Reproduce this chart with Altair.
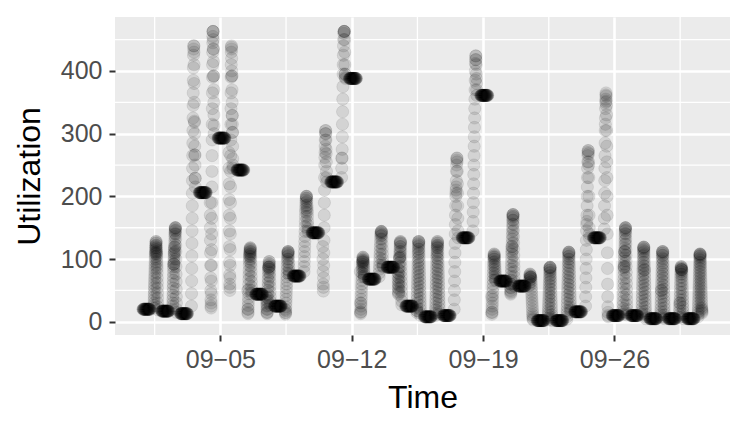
import altair as alt
import numpy as np
import pandas as pd

# ---- data -----------------------------------------------------------------
# constant overnight level for each day (dark blobs)
night_values = [20, 17, 13, 206, 293, 242, 44, 25, 73, 142,
                223, 388, 68, 87, 25, 8, 10, 134, 361, 65,
                57, 2, 2, 16, 134, 10, 10, 5, 5, 5]

# daytime readings for each day (columns)
day01 = [22, 26, 30, 35, 40, 45, 50, 55, 60, 65, 70, 75, 80, 85, 90, 95, 100, 104, 108, 110, 112, 115, 118, 120,
         122, 125, 128, 128, 126, 122, 118, 115, 112, 110, 108, 105, 100, 95, 90, 85, 78, 70, 62, 54, 46, 38, 30, 24, 19]
day02 = [20, 25, 30, 36, 42, 48, 54, 60, 66, 72, 78, 84, 88, 92, 92, 92, 96, 100, 104, 108, 110, 112, 115, 119, 119,
         124, 130, 136, 140, 142, 145, 148, 150, 150, 150, 146, 140, 132, 122, 112, 100, 88, 76, 64, 52, 40, 30, 20, 15]
day03 = [25, 45, 65, 85, 105, 125, 145, 165, 185, 205, 225, 245, 265, 285, 305, 325, 345, 365, 385, 405, 425, 435,
         440, 440, 430, 410, 380, 350, 320, 318, 300, 280, 266, 266, 250, 229, 229, 215]
day04 = [190, 170, 150, 130, 110, 90, 70, 50, 35, 25, 22, 30, 45, 65, 90, 115, 140, 165, 190, 215, 240, 265, 290,
         315, 340, 365, 390, 410, 430, 445, 455, 463, 463, 463, 450, 435, 435, 415, 392, 392, 370, 350, 330, 313, 300]
day05 = [270, 245, 220, 195, 170, 145, 120, 95, 75, 60, 50, 55, 70, 90, 115, 140, 165, 190, 215, 240, 265, 290, 315,
         340, 365, 390, 410, 430, 438, 440, 435, 420, 400, 392, 392, 370, 350, 329, 329, 315, 302, 302, 280, 260, 250, 245]
day06 = [50, 20, 13, 15, 20, 26, 32, 38, 45, 52, 60, 68, 75, 82, 90, 96, 100, 104, 106, 108, 110, 112, 114,
         116, 118, 118, 116, 112, 108, 104, 100, 94, 88, 80, 72, 64, 56, 50, 45]
day07 = [40, 35, 30, 25, 20, 15, 13, 15, 20, 26, 32, 38, 44, 50, 56, 62, 68, 74, 80, 84, 87, 87, 87, 90, 93, 96, 96,
         92, 88, 84, 78, 72, 64, 56, 48, 40, 33, 27]
day08 = [20, 15, 12, 14, 18, 24, 30, 36, 42, 48, 54, 60, 66, 72, 78, 84, 90, 96, 100, 104, 108, 110, 112, 112, 112,
         110, 106, 100, 94, 88, 82, 78, 75]
day09 = [80, 88, 96, 104, 112, 120, 128, 136, 144, 152, 160, 168, 175, 180, 185, 190, 194, 197, 200, 200, 200, 197,
         192, 186, 182, 178, 174, 168, 160, 154, 148, 144]
day10 = [120, 100, 80, 60, 49, 55, 70, 90, 110, 130, 150, 170, 190, 210, 230, 250, 262, 270, 280, 290, 300, 305,
         305, 300, 290, 275, 268, 255, 240, 230, 223]
day11 = [230, 245, 261, 261, 275, 295, 315, 335, 355, 375, 395, 410, 425, 440, 450, 460, 463, 463, 463, 463, 450,
         430, 410, 395, 395, 390, 388]
day12 = [80, 30, 15, 13, 16, 20, 25, 30, 36, 42, 48, 54, 60, 66, 72, 78, 84, 88, 92, 95, 96, 98, 100, 103,
         103, 101, 98, 96, 94, 91, 88, 84, 80, 76, 73, 71]
day13 = [72, 78, 84, 90, 96, 102, 108, 114, 120, 126, 132, 137, 140, 142, 144, 144, 144, 142, 138, 132, 124, 116,
         108, 100, 94, 90, 88]
day14 = [84, 78, 72, 66, 60, 54, 48, 44, 46, 52, 58, 64, 70, 76, 82, 88, 94, 100, 102, 102, 104, 108, 112, 116, 120,
         124, 126, 128, 128, 126, 120, 112, 104, 96, 88, 80, 72, 64, 56, 48, 40, 33, 27]
day15 = [22, 18, 15, 18, 24, 30, 36, 42, 48, 54, 60, 66, 72, 78, 84, 90, 96, 102, 108, 112, 116, 120, 124, 128, 128,
         128, 126, 122, 116, 110, 104, 98, 92, 86, 80, 74, 68, 62, 56, 50, 44, 38, 32, 26, 20, 14, 10]
day16 = [10, 14, 19, 24, 30, 36, 42, 48, 54, 60, 66, 72, 78, 84, 90, 96, 102, 106, 110, 114, 118, 120, 122, 125, 128,
         128, 126, 122, 118, 112, 106, 100, 94, 88, 82, 76, 70, 64, 58, 52, 46, 40, 34, 28, 22, 16, 12]
day17 = [20, 35, 50, 65, 80, 95, 110, 125, 140, 155, 170, 185, 200, 205, 210, 215, 225, 240, 250, 258, 261, 261,
         255, 240, 220, 205, 185, 165, 145, 134]
day18 = [145, 160, 175, 190, 205, 220, 235, 250, 265, 280, 295, 310, 325, 340, 355, 370, 385, 400, 412, 418, 424,
         424, 418, 410, 395, 388, 380, 370, 361]
day19 = [40, 15, 12, 15, 20, 25, 30, 36, 42, 48, 54, 60, 66, 72, 78, 84, 90, 95, 100, 103, 105, 108, 108,
         106, 103, 100, 96, 92, 88, 84, 80, 76, 72, 68, 66]
day20 = [60, 55, 50, 46, 44, 48, 54, 60, 66, 72, 78, 84, 90, 96, 102, 108, 112, 116, 120, 120, 126, 132, 138, 144,
         150, 156, 162, 166, 169, 171, 171, 171, 168, 162, 155, 146, 136, 126, 116, 106, 96, 88, 80, 72, 65, 60, 57]
day21 = [58, 62, 66, 70, 73, 76, 76, 74, 72, 71, 71, 71, 68, 64, 60, 55, 50, 45, 40, 35, 30, 25, 20, 15, 11, 8, 5, 3]
day22 = [3, 6, 10, 14, 18, 23, 28, 33, 38, 43, 48, 53, 58, 63, 68, 73, 78, 82, 85, 87, 87, 87, 86, 83, 79, 74, 69,
         64, 58, 52, 46, 40, 34, 28, 22, 16, 11, 7, 4, 2]
day23 = [4, 8, 13, 18, 24, 30, 36, 42, 48, 54, 60, 66, 72, 78, 84, 90, 95, 100, 104, 108, 111, 111, 111, 109, 105,
         100, 94, 88, 82, 76, 70, 64, 58, 52, 46, 40, 34, 28, 23, 19, 16]
day24 = [25, 40, 55, 70, 85, 100, 115, 130, 145, 155, 160, 170, 185, 200, 215, 230, 245, 255, 265, 270, 273, 273,
         268, 255, 250, 230, 200, 170, 150, 140, 134]
day25 = [148, 165, 185, 205, 225, 245, 265, 285, 305, 315, 325, 340, 350, 355, 362, 365, 360, 352, 345, 330, 305,
         280, 255, 230, 200, 170, 140, 110, 85, 60, 40, 24, 15, 10, 8]
day26 = [12, 16, 21, 27, 33, 40, 47, 54, 61, 68, 75, 82, 86, 88, 88, 92, 97, 102, 107, 112, 112, 112, 118, 124, 130,
         136, 141, 145, 148, 150, 150, 150, 146, 140, 132, 124, 115, 106, 97, 88, 79, 70, 61, 52, 43, 35, 27, 20, 14, 11]
day27 = [12, 16, 21, 27, 33, 39, 45, 51, 57, 63, 69, 75, 81, 85, 90, 95, 100, 105, 110, 114, 117, 119, 119, 119, 116,
         112, 107, 101, 95, 89, 83, 83, 77, 71, 65, 59, 53, 47, 41, 35, 29, 23, 17, 12, 8, 5]
day28 = [7, 11, 16, 21, 27, 33, 39, 45, 50, 50, 55, 61, 67, 73, 79, 85, 91, 97, 102, 106, 109, 112, 112, 112, 110,
         106, 100, 94, 88, 82, 76, 70, 64, 58, 52, 46, 40, 34, 28, 22, 16, 11, 7, 5]
day29 = [7, 11, 16, 21, 26, 30, 30, 35, 41, 47, 53, 59, 65, 71, 76, 80, 84, 86, 88, 88, 86, 84, 83, 83, 83, 80, 76,
         71, 65, 59, 53, 47, 41, 35, 29, 23, 17, 12, 8, 5]
day30 = [8, 12, 16, 20, 25, 30, 35, 40, 45, 50, 55, 60, 65, 70, 75, 80, 85, 90, 95, 100, 104, 106, 108, 108, 108,
         107, 105, 102, 98, 94, 90, 85, 80, 75, 70, 65, 60, 55, 50, 45, 40, 35, 30, 25, 22, 20, 18, 16, 14]

day_lists = [day01, day02, day03, day04, day05, day06, day07, day08, day09, day10,
             day11, day12, day13, day14, day15, day16, day17, day18, day19, day20,
             day21, day22, day23, day24, day25, day26, day27, day28, day29, day30]

first_day = "2019-09-01"
x_breaks = ["2019-09-05", "2019-09-12", "2019-09-19", "2019-09-26"]
x_minor = ["2019-09-01T12:00:00", "2019-09-08T12:00:00", "2019-09-15T12:00:00",
           "2019-09-22T12:00:00", "2019-09-29T12:00:00"]
y_breaks = [0, 100, 200, 300, 400]
y_minor = [50, 150, 250, 350, 450]

# ---- build the sampled series (overnight every 20 min, daytime readings 11:00-16:00)
times, vals = [], []
start = pd.Timestamp(first_day)
for d, (nv, dl) in enumerate(zip(night_values, day_lists)):
    day0 = start + pd.Timedelta(days=d)
    nt = pd.date_range(day0 - pd.Timedelta(hours=3), day0 + pd.Timedelta(hours=6), freq="20min")
    times.extend(nt)
    vals.extend([nv] * len(nt))
    dt = pd.date_range(day0 + pd.Timedelta(hours=11), day0 + pd.Timedelta(hours=16), periods=len(dl))
    times.extend(dt)
    vals.extend(dl)

df = pd.DataFrame({"Time": times, "Utilization": vals})

# ggplot-like 5% expansion
tmin, tmax = df["Time"].min(), df["Time"].max()
tpad = (tmax - tmin) * 0.05
x_dom = [tmin - tpad, tmax + tpad]
vmin, vmax = df["Utilization"].min(), df["Utilization"].max()
vpad = (vmax - vmin) * 0.05


def dt_obj(ts):
    ts = pd.Timestamp(ts)
    return alt.DateTime(year=ts.year, month=ts.month, date=ts.day,
                        hours=ts.hour, minutes=ts.minute)


x_scale = alt.Scale(domain=[dt_obj(x_dom[0]), dt_obj(x_dom[1])], nice=False)
y_scale = alt.Scale(domain=[float(vmin - vpad), float(vmax + vpad)], nice=False, zero=False)

label_expr = "timeFormat(datum.value, '%m') + '\u2212' + timeFormat(datum.value, '%d')"

points = alt.Chart(df).mark_circle(
    color="black", size=150, opacity=1, fillOpacity=0.1,
    stroke="black", strokeWidth=1, strokeOpacity=0.08,
).encode(
    x=alt.X("Time:T", scale=x_scale,
            axis=alt.Axis(values=[dt_obj(v) for v in x_breaks], labelExpr=label_expr,
                          title="Time", labelPadding=6, titlePadding=10)),
    y=alt.Y("Utilization:Q", scale=y_scale,
            axis=alt.Axis(values=y_breaks, title="Utilization", labelPadding=7, titlePadding=14)),
)

vminor = alt.Chart(pd.DataFrame({"Time": pd.to_datetime(x_minor)})).mark_rule(
    color="white", strokeWidth=1.3
).encode(x=alt.X("Time:T", scale=x_scale))

hminor = alt.Chart(pd.DataFrame({"Utilization": y_minor})).mark_rule(
    color="white", strokeWidth=1.3
).encode(y=alt.Y("Utilization:Q", scale=y_scale))

chart = alt.layer(vminor, hminor, points).properties(
    width=615, height=318,
    autosize=alt.AutoSizeParams(type="none"),
    padding={"left": 107, "top": 9, "right": 9, "bottom": 84},
).configure_view(
    fill="#EBEBEB", stroke=None
).configure_axis(
    domain=False, grid=True, gridColor="white", gridWidth=2.6,
    tickColor="#333333", tickWidth=2, tickSize=6,
    labelColor="#4D4D4D", labelFont="Liberation Sans", labelFontSize=25,
    titleFont="Liberation Sans", titleFontSize=32, titleFontWeight="normal", titleColor="black",
)

chart.save("out.html", embed_options={"renderer": "svg", "actions": False})
